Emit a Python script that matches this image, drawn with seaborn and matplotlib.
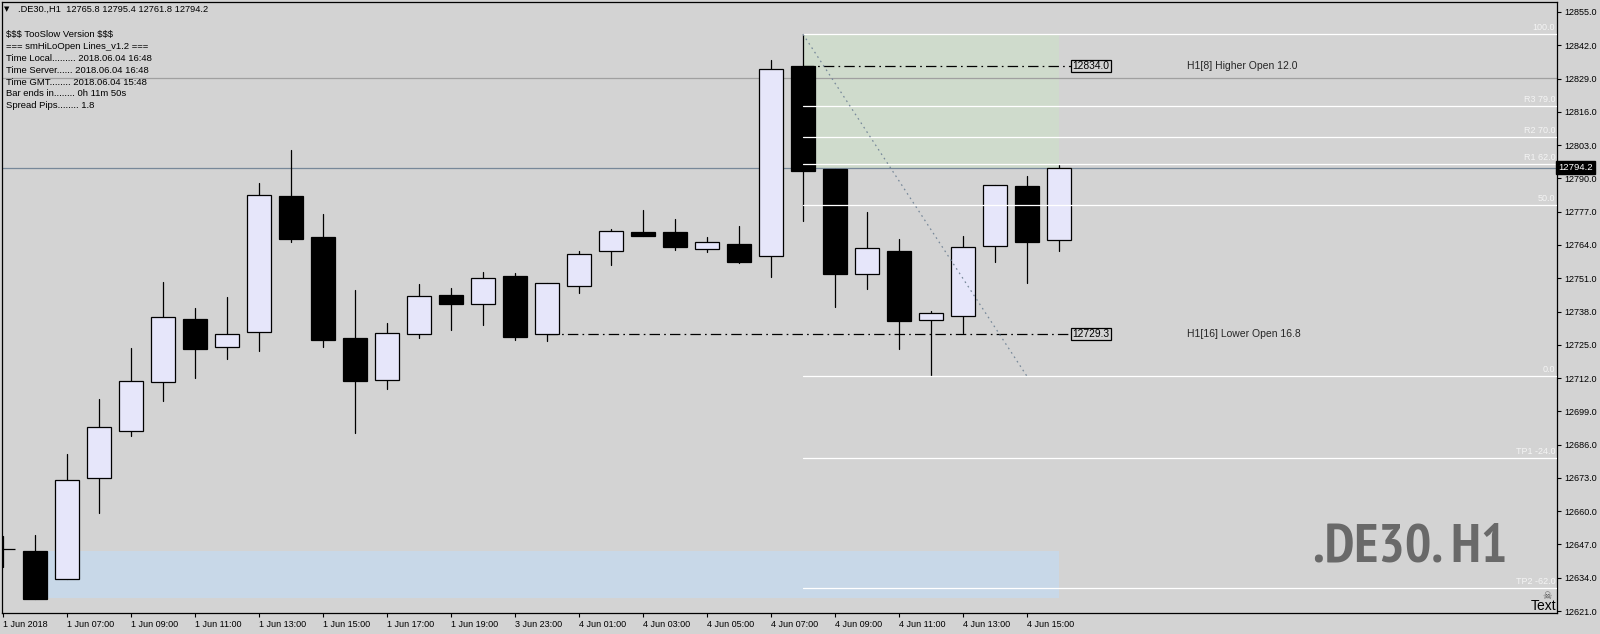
import numpy as np
import pandas as pd
import seaborn as sns
import matplotlib
matplotlib.use("Agg")
import matplotlib.pyplot as plt
from matplotlib.patches import Rectangle
import matplotlib.transforms as mtransforms
from matplotlib import font_manager

# ---------------- data ----------------
bar_times = ["1 Jun 05:00", "1 Jun 06:00", "1 Jun 07:00", "1 Jun 08:00", "1 Jun 09:00",
             "1 Jun 10:00", "1 Jun 11:00", "1 Jun 12:00", "1 Jun 13:00", "1 Jun 14:00",
             "1 Jun 15:00", "1 Jun 16:00", "1 Jun 17:00", "1 Jun 18:00", "1 Jun 19:00",
             "1 Jun 20:00", "3 Jun 23:00", "4 Jun 00:00", "4 Jun 01:00", "4 Jun 02:00",
             "4 Jun 03:00", "4 Jun 04:00", "4 Jun 05:00", "4 Jun 06:00", "4 Jun 07:00",
             "4 Jun 08:00", "4 Jun 09:00", "4 Jun 10:00", "4 Jun 11:00", "4 Jun 12:00",
             "4 Jun 13:00", "4 Jun 14:00", "4 Jun 15:00", "4 Jun 16:00"]
opens = [12645.3, 12644.5, 12633.4, 12672.9, 12691.2, 12710.4, 12735.1, 12724.0, 12729.9, 12783.1,
         12767.1, 12727.7, 12711.3, 12729.3, 12744.3, 12740.8, 12751.8, 12729.3, 12748.1, 12761.5,
         12769.1, 12769.1, 12762.3, 12764.4, 12759.6, 12834.0, 12793.7, 12752.5, 12761.6, 12734.6,
         12736.1, 12763.5, 12787.0, 12765.8]
highs = [12650.3, 12650.7, 12682.3, 12703.8, 12723.7, 12749.5, 12739.4, 12743.7, 12788.2, 12801.1,
         12776.1, 12746.4, 12733.5, 12748.8, 12747.2, 12753.4, 12753.0, 12749.0, 12761.6, 12770.2,
         12777.7, 12774.1, 12767.1, 12771.4, 12836.3, 12846.3, 12793.7, 12776.9, 12766.3, 12738.2,
         12767.5, 12787.3, 12790.9, 12795.4]
lows = [12638.2, 12625.7, 12633.4, 12659.4, 12689.5, 12703.2, 12712.1, 12719.6, 12722.7, 12765.3,
        12724.3, 12690.4, 12707.7, 12727.8, 12730.9, 12732.9, 12727.0, 12726.6, 12745.4, 12756.3,
        12767.6, 12762.0, 12761.3, 12757.0, 12751.6, 12773.5, 12739.6, 12746.9, 12723.5, 12712.7,
        12729.5, 12757.5, 12749.3, 12761.8]
closes = [12645.2, 12625.7, 12672.1, 12692.8, 12710.7, 12735.7, 12723.5, 12729.1, 12783.4, 12766.5,
          12727.0, 12711.0, 12729.5, 12743.9, 12741.1, 12751.0, 12728.2, 12749.0, 12760.3, 12769.3,
          12767.6, 12763.3, 12765.0, 12757.5, 12832.6, 12793.0, 12752.8, 12762.7, 12734.4, 12737.3,
          12763.1, 12787.3, 12765.3, 12794.2]

xtick_labels = ["1 Jun 2018", "1 Jun 07:00", "1 Jun 09:00", "1 Jun 11:00", "1 Jun 13:00",
                "1 Jun 15:00", "1 Jun 17:00", "1 Jun 19:00", "3 Jun 23:00", "4 Jun 01:00",
                "4 Jun 03:00", "4 Jun 05:00", "4 Jun 07:00", "4 Jun 09:00", "4 Jun 11:00",
                "4 Jun 13:00", "4 Jun 15:00"]
ytick_values = [12621, 12634, 12647, 12660, 12673, 12686, 12699, 12712, 12725, 12738,
                12751, 12764, 12777, 12790, 12803, 12816, 12829, 12842, 12855]

fib_names = ["100.0", "R3 79.0", "R2 70.0", "R1 62.0", "50.0", "0.0", "TP1 -24.0", "TP2 -62.0"]
fib_pcts = [100, 79, 70, 62, 50, 0, -24, -62]
fib_hi_bar, fib_lo_bar, fib_end_bar = 25, 29, 32

higher_open_bar, higher_open = 25, 12834.0
lower_open_bar, lower_open = 17, 12729.3
higher_text = "H1[8] Higher Open 12.0"
lower_text = "H1[16] Lower Open 16.8"
upper_zone = (25, 33, 12793.7, 12846.3)
lower_zone = (1, 33, 12626.2, 12644.4)
grey_level = 12829.3
bid = 12794.2

info_lines = ["$$$ TooSlow Version $$$",
              "=== smHiLoOpen Lines_v1.2 ===",
              "Time Local......... 2018.06.04 16:48",
              "Time Server...... 2018.06.04 16:48",
              "Time GMT........ 2018.06.04 15:48",
              "Bar ends in........ 0h 11m 50s",
              "Spread Pips........ 1.8"]
header = ".DE30.,H1  12765.8 12795.4 12761.8 12794.2"
watermark = ".DE30. H1"

# ---------------- style ----------------
BG = "#d3d3d3"
sns.set_theme(style="white", rc={"axes.facecolor": BG, "figure.facecolor": BG,
                                 "axes.edgecolor": "black", "lines.scale_dashes": False})
plt.rcParams["font.family"] = ["Liberation Sans", "DejaVu Sans"]

df = pd.DataFrame({"t": bar_times, "o": opens, "h": highs, "l": lows, "c": closes})
df["x"] = np.arange(len(df))
df["bull"] = df["c"] >= df["o"]
df["bottom"] = df[["o", "c"]].min(axis=1)
df["height"] = (df["c"] - df["o"]).abs()

W, H = 1600, 634
fig = plt.figure(figsize=(W / 100, H / 100), dpi=100)
ax = fig.add_axes([2 / W, 21 / H, 1555 / W, (613 - 1.5) / H])
ax.set_xlim(-1 / 32, (1557 - 3) / 32)
ax.set_ylim(12855 - 601 / 2.56, 12855 + 10.5 / 2.56)

# zones
for (x0, x1, y0, y1), col in [(upper_zone, "#cfdbcc"), (lower_zone, "#c8d8e8")]:
    ax.add_patch(Rectangle((x0, y0), x1 - x0, y1 - y0, facecolor=col, edgecolor="none", zorder=1))

# horizontal levels
ax.axhline(grey_level, color="#a0a0a0", lw=0.9, zorder=2)
ax.axhline(bid, color="#778899", lw=0.9, zorder=2)

# wicks via seaborn lineplot (one segment per bar)
wick_df = pd.DataFrame({"x": np.repeat(df["x"].values, 2),
                        "y": np.column_stack([df["l"], df["h"]]).ravel(),
                        "bar": np.repeat(df["x"].values, 2)})
sns.lineplot(data=wick_df, x="x", y="y", units="bar", estimator=None, color="black",
             lw=0.9, ax=ax, zorder=3, legend=False, sort=False)

# bodies
ax.bar(df["x"], np.maximum(df["height"], 0.05), bottom=df["bottom"], width=0.76,
       color=np.where(df["bull"], "#e6e6fa", "black"), edgecolor="black", linewidth=0.9, zorder=4)

# dash-dot open lines
dd = (0, (7.5, 3, 1.2, 3))
label_x = (1071 - 3) / 32 + 0.05
ax.plot([higher_open_bar, label_x], [higher_open, higher_open], color="black", lw=0.9,
        linestyle=dd, zorder=2.5)
ax.plot([lower_open_bar, label_x], [lower_open, lower_open], color="black", lw=0.9,
        linestyle=dd, zorder=2.5)
for val, txt in [(higher_open, higher_text), (lower_open, lower_text)]:
    ax.text(label_x, val, f"{val:.1f}", ha="left", va="center", fontsize=7.4, color="black",
            bbox=dict(boxstyle="square,pad=0.12", fc=BG, ec="black", lw=0.9), zorder=6)
    ax.text((1187 - 3) / 32, val, txt, ha="left", va="center", fontsize=7.5, color="#262626", zorder=6)

# fibonacci
fib_hi = df["h"].iloc[fib_hi_bar]
fib_lo = df["l"].iloc[fib_lo_bar]
trans = mtransforms.blended_transform_factory(ax.transAxes, ax.transData)
for name, pct in zip(fib_names, fib_pcts):
    lvl = fib_lo + pct / 100 * (fib_hi - fib_lo)
    ax.plot([fib_hi_bar, ax.get_xlim()[1]], [lvl, lvl], color="white", lw=0.9, zorder=5)
    ax.text(0.9988, lvl + 0.9, name, transform=trans, ha="right", va="bottom",
            fontsize=6.5, color="#f4f4f4", zorder=6)
ax.plot([fib_hi_bar, fib_end_bar], [fib_hi, fib_lo], color="#778899", lw=0.9,
        linestyle=(0, (1.2, 2.6)), zorder=5)

# watermark: prefer an installed narrow/condensed bold face
def _pick_condensed():
    prefs = ["narrow", "roboto condensed", "robotocondensed", "open sans condensed",
             "opensans_condensed", "opensanscondensed", "condensed"]
    fonts = font_manager.fontManager.ttflist
    for key in prefs:
        for f in fonts:
            nm = (f.name + " " + f.fname).lower()
            if key in nm and ("bold" in nm or f.weight in (700, "bold")) \
                    and "italic" not in nm and "oblique" not in nm and "mono" not in nm:
                return font_manager.FontProperties(fname=f.fname)
    return font_manager.FontProperties(family="Liberation Sans", weight="bold")

wm_prop = _pick_condensed()
wm = ax.text((1507 - 3) / 32, 12855 - 550 / 2.56, watermark, ha="right", va="baseline",
             fontproperties=wm_prop, fontsize=43, color="#696969", zorder=0.5)
fig.canvas.draw()
bb = wm.get_window_extent(renderer=fig.canvas.get_renderer())
fs_h = 43.0
fs_w = 43.0 * 185.0 / bb.width
fs = fs_h if fs_w >= fs_h else fs_w ** 0.6 * fs_h ** 0.4
wm.set_fontsize(fs)

ax.text((1544 - 3) / 32, 12855 - 598 / 2.56, "Text", ha="center", va="baseline",
        fontsize=10, color="black", zorder=6)
ax.text((1547 - 3) / 32, 12855 - 584 / 2.56, "\u2620", ha="center", va="center",
        fontsize=7.5, color="#555555", family=["DejaVu Sans"], zorder=6)

# axes
for s in ax.spines.values():
    s.set_visible(True)
    s.set_color("black")
    s.set_linewidth(0.9)
ax.set_xticks(np.arange(0, 33, 2))
ax.set_xticklabels(xtick_labels, ha="left", fontsize=6.5)
ax.yaxis.tick_right()
ax.set_yticks(ytick_values)
ax.set_yticklabels([f"{v:.1f}" for v in ytick_values], fontsize=6.5)
ax.tick_params(axis="x", direction="out", length=3, width=0.8, pad=2, colors="black", bottom=True)
ax.tick_params(axis="y", direction="out", length=3, width=0.8, pad=2, colors="black", right=True, left=False)
ax.set_xlabel("")
ax.set_ylabel("")

# bid price tag
ax.text(1.0008, bid, f"{bid:.1f}", transform=trans, ha="left", va="center", fontsize=6.8,
        color="white", bbox=dict(boxstyle="square,pad=0.2", fc="black", ec="black"), zorder=7,
        clip_on=False)

# header and info block
fig.text(4 / W, 1 - 9 / H, "\u25bc", fontsize=5, color="black", va="center", ha="left",
         family=["DejaVu Sans"])
fig.text(18 / W, 1 - 9 / H, header, fontsize=6.7, color="black", va="center", ha="left")
for i, line in enumerate(info_lines):
    fig.text(6 / W, 1 - (35 + i * 11.8) / H, line, fontsize=6.8, color="black", va="center",
             ha="left", parse_math=False)

fig.savefig("out.png", dpi=100, facecolor=BG)
